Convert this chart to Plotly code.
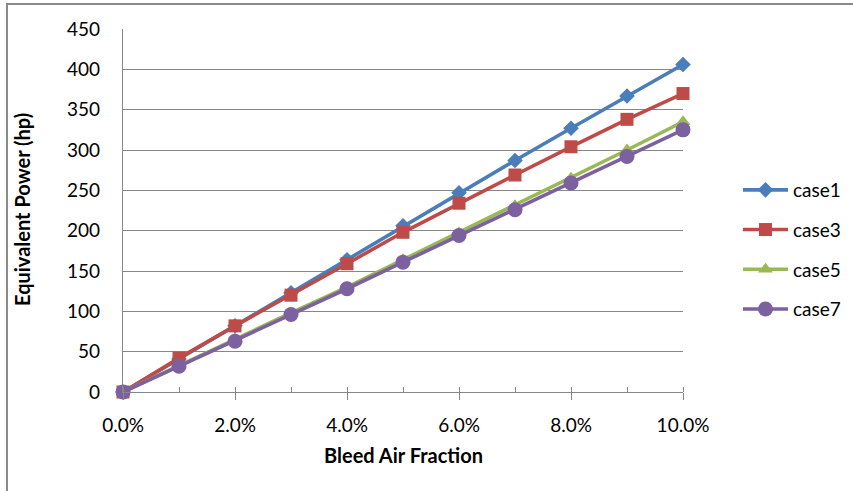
import plotly.graph_objects as go

# Bleed air fraction (as a fraction, formatted as percent on the axis)
bleed_fraction = [0.00, 0.01, 0.02, 0.03, 0.04, 0.05, 0.06, 0.07, 0.08, 0.09, 0.10]

# Equivalent power (hp) per case
case1 = [0, 41, 82, 123, 164, 206, 247, 287, 327, 367, 406]
case3 = [0, 42, 82, 120, 159, 198, 234, 269, 304, 338, 370]
case5 = [0, 33, 65, 98, 130, 164, 197, 231, 265, 300, 335]
case7 = [0, 32, 63, 96, 128, 161, 194, 226, 259, 292, 325]

series = [
    ("case1", case1, "#4A7EBB", "diamond", 12),
    ("case3", case3, "#BE4B48", "square", 13),
    ("case5", case5, "#98B954", "triangle-up", 13),
    ("case7", case7, "#7D60A0", "circle", 15),
]

FONT = "Lato"
GRID = "#878787"

fig = go.Figure()
for name, vals, color, symbol, size in series:
    fig.add_trace(go.Scatter(
        x=bleed_fraction, y=vals, name=name, legendgroup=name,
        mode="lines+markers",
        line=dict(color=color, width=3.6),
        marker=dict(color=color, symbol=symbol, size=size),
        cliponaxis=False,
    ))

W, H = 853, 491
L, R, T, B = 123, 683, 29, 392
pw, ph = R - L, B - T

def px_x(x):
    return (x - L) / pw

def px_y(y):
    return (B - y) / ph

fig.update_layout(
    width=W, height=H,
    margin=dict(l=L, r=W - R, t=T, b=H - B, autoexpand=False),
    paper_bgcolor="white", plot_bgcolor="white",
    font=dict(family=FONT, size=19, color="#000000"),
    showlegend=True,
    legend=dict(
        x=px_x(738), y=px_y(171), xanchor="left", yanchor="top",
        font=dict(size=19), tracegroupgap=12, itemwidth=45,
        bgcolor="rgba(0,0,0,0)",
    ),
    xaxis=dict(
        range=[0, 0.10], dtick=0.02, tick0=0, tickformat=".1%",
        showgrid=False, zeroline=False,
        showline=True, linecolor=GRID, linewidth=1.3,
        ticks="outside", ticklen=7, tickcolor=GRID, tickwidth=1.3,
        ticklabelstandoff=9,
        minor=dict(dtick=0.01, tick0=0, ticks="inside", ticklen=5,
                   tickcolor=GRID, tickwidth=1.3, showgrid=False),
        tickfont=dict(size=19),
    ),
    yaxis=dict(
        range=[0, 450], dtick=50, tick0=0,
        showgrid=True, gridcolor=GRID, gridwidth=1.3,
        zeroline=False, showline=True, linecolor=GRID, linewidth=1.3,
        ticks="", ticklabelstandoff=18,
        tickfont=dict(size=19),
    ),
    annotations=[
        dict(text="<b>Bleed Air Fraction</b>", xref="paper", yref="paper",
             x=px_x(403), y=px_y(455), showarrow=False,
             xanchor="center", yanchor="middle", font=dict(size=20)),
        dict(text="<b>Equivalent Power (hp)</b>", xref="paper", yref="paper",
             x=px_x(22), y=px_y(210), showarrow=False, textangle=-90,
             xanchor="center", yanchor="middle", font=dict(size=20)),
    ],
    shapes=[
        dict(type="rect", xref="paper", yref="paper",
             x0=px_x(7), y0=px_y(4), x1=px_x(900), y1=px_y(560),
             line=dict(color="#8a8a8a", width=2), layer="below"),
    ],
)

fig.write_html("out.html")
